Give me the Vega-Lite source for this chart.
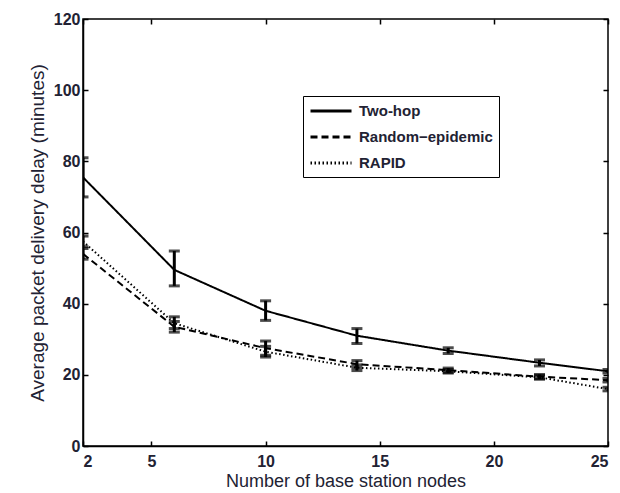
{
  "$schema": "https://vega.github.io/schema/vega-lite/v6.json",
  "width": 525,
  "height": 427,
  "autosize": "none",
  "padding": {"left": 83, "top": 19, "right": 12, "bottom": 47},
  "background": "white",
  "config": {
    "view": {"stroke": "black", "strokeWidth": 1.5},
    "font": "Liberation Sans",
    "axis": {
      "domainColor": "black",
      "domainWidth": 1.5,
      "tickColor": "black",
      "tickWidth": 1.5,
      "tickSize": -5,
      "grid": false,
      "labelFont": "Liberation Sans",
      "labelFontWeight": "bold",
      "labelFontSize": 16,
      "labelColor": "#222233",
      "titleFont": "Liberation Sans",
      "titleFontWeight": "normal",
      "titleFontSize": 18,
      "titleColor": "#222233"
    }
  },
  "data": {
    "values": [
      {"series": "Two-hop", "x": 2, "y": 75.5, "lo": 70, "hi": 81},
      {"series": "Two-hop", "x": 6, "y": 49.5, "lo": 45, "hi": 54.8},
      {"series": "Two-hop", "x": 10, "y": 38, "lo": 35.3, "hi": 40.8},
      {"series": "Two-hop", "x": 14, "y": 31, "lo": 28.8, "hi": 33},
      {"series": "Two-hop", "x": 18, "y": 26.8, "lo": 26, "hi": 27.6},
      {"series": "Two-hop", "x": 22, "y": 23.4, "lo": 22.5, "hi": 24.2},
      {"series": "Two-hop", "x": 25, "y": 21, "lo": 20.5, "hi": 21.5},
      {"series": "Random\u2212epidemic", "x": 2, "y": 54, "lo": 52.5, "hi": 55.5},
      {"series": "Random\u2212epidemic", "x": 6, "y": 33.5, "lo": 32, "hi": 35},
      {"series": "Random\u2212epidemic", "x": 10, "y": 27.5, "lo": 25.5, "hi": 29.5},
      {"series": "Random\u2212epidemic", "x": 14, "y": 23, "lo": 22, "hi": 24},
      {"series": "Random\u2212epidemic", "x": 18, "y": 21.3, "lo": 20.7, "hi": 21.9},
      {"series": "Random\u2212epidemic", "x": 22, "y": 19.5, "lo": 18.9, "hi": 20.1},
      {"series": "Random\u2212epidemic", "x": 25, "y": 18.5, "lo": 18, "hi": 19},
      {"series": "RAPID", "x": 2, "y": 57.5, "lo": 56, "hi": 59},
      {"series": "RAPID", "x": 6, "y": 34.5, "lo": 33, "hi": 36.3},
      {"series": "RAPID", "x": 10, "y": 26.5, "lo": 25, "hi": 28},
      {"series": "RAPID", "x": 14, "y": 22, "lo": 21.2, "hi": 22.8},
      {"series": "RAPID", "x": 18, "y": 21, "lo": 20.5, "hi": 21.5},
      {"series": "RAPID", "x": 22, "y": 19.3, "lo": 18.8, "hi": 19.8},
      {"series": "RAPID", "x": 25, "y": 16, "lo": 15.5, "hi": 16.5}
    ]
  },
  "layer": [
    {
      "encoding": {
        "x": {
          "field": "x", "type": "quantitative",
          "scale": {"domain": [2, 25], "nice": false, "zero": false},
          "axis": {"values": [2, 5, 10, 15, 20, 25], "title": "Number of base station nodes", "labelPadding": 12, "titlePadding": 3}
        },
        "y": {
          "field": "y", "type": "quantitative",
          "scale": {"domain": [0, 120], "nice": false},
          "axis": {"values": [0, 20, 40, 60, 80, 100, 120], "title": "Average packet delivery delay (minutes)", "labelPadding": 8, "titlePadding": 6, "titleFontSize": 19}
        }
      },
      "layer": [
        {
          "mark": {"type": "line", "color": "black", "strokeWidth": 2, "clip": true},
          "encoding": {
            "detail": {"field": "series"},
            "strokeDash": {
              "field": "series", "type": "nominal",
              "scale": {"domain": ["Two-hop", "Random\u2212epidemic", "RAPID"], "range": [[1, 0], [7, 4], [1.5, 2.5]]},
              "legend": {
                "title": null,
                "orient": "none",
                "legendX": 220,
                "legendY": 77,
                "symbolType": "M-1,0H4.47",
                "symbolSize": 225,
                "symbolStrokeWidth": 3,
                "symbolStrokeColor": "black",
                "labelFont": "Liberation Sans",
                "labelFontWeight": "bold",
                "labelFontSize": 15,
                "labelColor": "#222233",
                "labelOffset": 32,
                "rowPadding": 9,
                "padding": 6,
                "strokeColor": "black",
                "fillColor": "white"
              }
            }
          }
        },
        {
          "mark": {"type": "rule", "color": "black", "strokeWidth": 3, "clip": true},
          "encoding": {"y": {"field": "lo", "type": "quantitative"}, "y2": {"field": "hi"}}
        },
        {
          "mark": {"type": "tick", "orient": "horizontal", "color": "black", "thickness": 3, "size": 11, "clip": true},
          "encoding": {"y": {"field": "lo", "type": "quantitative"}}
        },
        {
          "mark": {"type": "tick", "orient": "horizontal", "color": "black", "thickness": 3, "size": 11, "clip": true},
          "encoding": {"y": {"field": "hi", "type": "quantitative"}}
        }
      ]
    },
    {
      "mark": {"type": "point", "opacity": 0},
      "encoding": {
        "x": {
          "field": "x", "type": "quantitative",
          "scale": {"domain": [2, 25], "nice": false, "zero": false},
          "axis": {"orient": "top", "values": [2, 5, 10, 15, 20, 25], "labels": false, "title": null, "domain": false}
        },
        "y": {
          "field": "y", "type": "quantitative",
          "scale": {"domain": [0, 120], "nice": false},
          "axis": {"orient": "right", "values": [0, 20, 40, 60, 80, 100, 120], "labels": false, "title": null, "domain": false}
        }
      }
    }
  ],
  "resolve": {"scale": {"x": "independent", "y": "independent"}}
}
